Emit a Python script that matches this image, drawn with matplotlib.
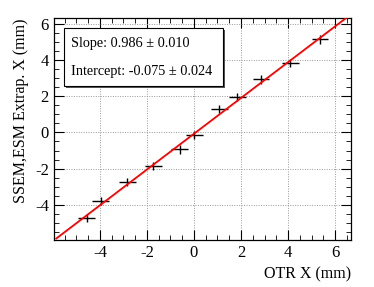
import numpy as np
import matplotlib.pyplot as plt
from matplotlib.patches import Rectangle

plt.rcParams['font.family'] = ['Liberation Serif', 'DejaVu Serif']
plt.rcParams['axes.unicode_minus'] = False

# measured points (mm)
otr_x = [-4.57, -3.96, -2.84, -1.73, -0.60, 0.01, 1.08, 1.84, 2.85, 4.09, 5.36]
ssem_x = [-4.73, -3.78, -2.74, -1.85, -0.94, -0.15, 1.27, 1.96, 2.92, 3.83, 5.12]
x_err = [0.36] * len(otr_x)
y_err = [0.23] * len(ssem_x)

slope, intercept = 0.986, -0.075
fit_range = [-5.86, 6.45]

fig = plt.figure(figsize=(3.74, 2.87), dpi=100)
ax = fig.add_axes([0.144, 0.164, 0.794, 0.773])

ax.errorbar(otr_x, ssem_x, xerr=x_err, yerr=y_err, fmt='none', ecolor='black',
            elinewidth=1.0, capsize=0, zorder=3)
fx = np.array(fit_range)
ax.plot(fx, slope * fx + intercept, color='red', lw=1.3, zorder=4)

ax.set_xlim(-5.96, 6.67)
ax.set_ylim(-5.93, 6.3)
ax.set_xticks([-4, -2, 0, 2, 4, 6])
ax.set_yticks([-4, -2, 0, 2, 4, 6])
ax.set_xticks(np.arange(-5.5, 6.6, 0.5), minor=True)
ax.set_yticks(np.arange(-5.5, 6.3, 0.5), minor=True)
ax.tick_params(which='both', direction='in', top=True, right=True, labelsize=12)
ax.tick_params(which='major', length=7, width=0.8)
ax.tick_params(which='minor', length=3.5, width=0.6)
ax.grid(True, which='major', linestyle=(0, (1, 1.5)), color='#999999', lw=0.7)
for s in ax.spines.values():
    s.set_linewidth(0.9)

ax.set_xlabel('OTR X (mm)', fontsize=11.5, loc='right')
ax.set_ylabel('SSEM,ESM Extrap. X (mm)', fontsize=11.5, loc='top')

# stats box with shadow
ax.add_patch(Rectangle((0.041, 0.685), 0.535, 0.261, transform=ax.transAxes,
                       facecolor='#555555', edgecolor='none', zorder=5))
ax.add_patch(Rectangle((0.034, 0.694), 0.535, 0.261, transform=ax.transAxes,
                       facecolor='white', edgecolor='black', lw=0.8, zorder=6))
ax.text(0.057, 0.885, 'Slope: 0.986 \u00b1 0.010', transform=ax.transAxes,
        fontsize=10.3, va='center', zorder=7)
ax.text(0.057, 0.758, 'Intercept: -0.075 \u00b1 0.024', transform=ax.transAxes,
        fontsize=10.3, va='center', zorder=7)

fig.savefig('out.png', dpi=100)
